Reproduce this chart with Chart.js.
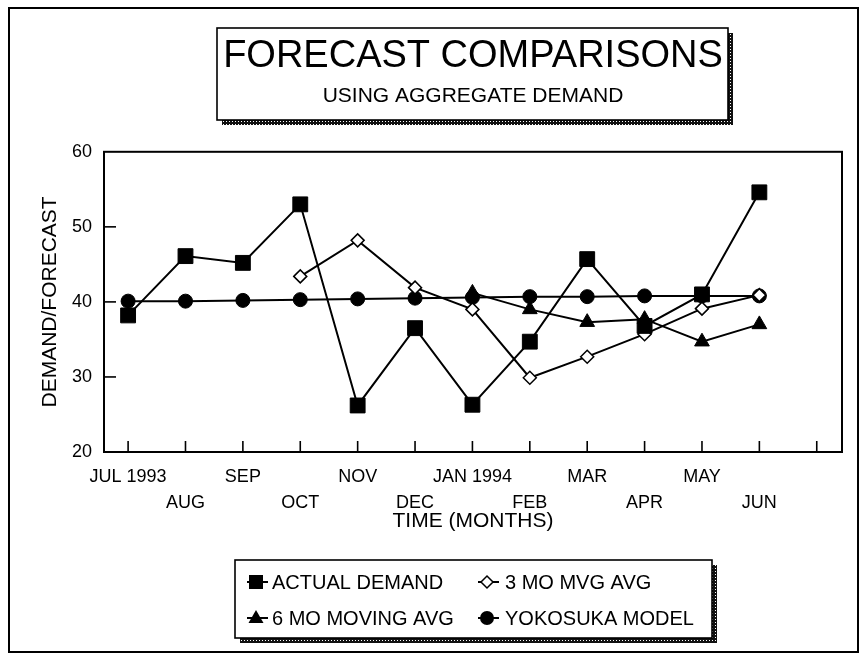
<!DOCTYPE html>
<html><head><meta charset="utf-8">
<script src="https://cdn.jsdelivr.net/npm/chart.js@4.4.1/dist/chart.umd.min.js"></script>
<style>html,body{margin:0;padding:0;background:#fff;}#wrap{width:859px;height:657px;position:relative;}</style>
</head><body><div id="wrap"><canvas id="c" width="859" height="657"></canvas></div>
<script>
const months = ['JUL 1993','AUG','SEP','OCT','NOV','DEC','JAN 1994','FEB','MAR','APR','MAY','JUN',''];
const actualDemand = [38.2, 46.1, 45.2, 53.0, 26.2, 36.5, 26.3, 34.7, 45.7, 36.8, 41.0, 54.6];
const mvg3 = [null, null, null, 43.4, 48.2, 41.9, 39.0, 29.9, 32.7, 35.7, 39.1, 40.9];
const mvg6 = [null, null, null, null, null, null, 41.2, 39.0, 37.3, 37.7, 34.7, 37.0];
const yokosuka = [40.1, 40.1, 40.2, 40.3, 40.4, 40.5, 40.6, 40.7, 40.7, 40.8, 40.8, 40.8];
const yTicks = [20, 30, 40, 50, 60];
const seriesNames = ['ACTUAL DEMAND', '3 MO MVG AVG', '6 MO MOVING AVG', 'YOKOSUKA MODEL'];

const FONT = "'Liberation Sans', Arial, Helvetica, sans-serif";
function pts(arr){ return arr.map((v,i)=>v==null?null:{x:i,y:v}).filter(p=>p); }

function makePattern(ctx){
  const pc = document.createElement('canvas'); pc.width=3; pc.height=3;
  const p = pc.getContext('2d');
  p.fillStyle='#111'; p.fillRect(0,0,3,3);
  p.fillStyle='#fff'; p.fillRect(1,1,1,1);
  return ctx.createPattern(pc,'repeat');
}
function shadowBox(ctx, x1, y1, x2, y2){
  ctx.save();
  ctx.fillStyle = makePattern(ctx);
  ctx.fillRect(x2, y1+5, 5, y2-y1);
  ctx.fillRect(x1+5, y2, x2-x1, 5);
  ctx.restore();
  ctx.save();
  ctx.fillStyle='#fff';
  ctx.fillRect(x1,y1,x2-x1,y2-y1);
  ctx.restore();
  ctx.save();
  ctx.strokeStyle='#000'; ctx.lineWidth=1.6;
  ctx.strokeRect(x1,y1,x2-x1,y2-y1);
  ctx.restore();
}
function marker(ctx, style, x, y){
  ctx.save();
  ctx.strokeStyle='#000'; ctx.fillStyle='#000'; ctx.lineWidth=2;
  ctx.beginPath(); ctx.moveTo(x-9,y); ctx.lineTo(x+12,y); ctx.stroke();
  ctx.beginPath();
  if(style==='rect'){ ctx.rect(x-7,y-7,14,14); ctx.fill(); }
  else if(style==='rectRot'){ ctx.moveTo(x-6,y); ctx.lineTo(x,y-6); ctx.lineTo(x+6,y); ctx.lineTo(x,y+6); ctx.closePath(); ctx.fillStyle='#fff'; ctx.fill(); ctx.lineWidth=1.5; ctx.stroke(); }
  else if(style==='triangle'){ ctx.moveTo(x,y-8); ctx.lineTo(x+7.5,y+5); ctx.lineTo(x-7.5,y+5); ctx.closePath(); ctx.fill(); }
  else { ctx.arc(x,y,7,0,Math.PI*2); ctx.fill(); }
  ctx.restore();
}

const decor = {
  id:'decor',
  beforeDraw(chart){
    const ctx = chart.ctx;
    ctx.save();
    ctx.fillStyle='#fff'; ctx.fillRect(0,0,chart.width,chart.height);
    ctx.strokeStyle='#000'; ctx.lineWidth=2;
    ctx.strokeRect(9,8,849,644);
    ctx.restore();
    shadowBox(ctx, 217, 28, 728, 120);
  },
  beforeDatasetsDraw(chart){
    const ctx = chart.ctx, ca = chart.chartArea;
    const xs = chart.scales.x, ys = chart.scales.y;
    ctx.save();
    ctx.strokeStyle='#000'; ctx.lineWidth=2;
    ctx.strokeRect(ca.left, ca.top, ca.right-ca.left, ca.bottom-ca.top);
    ctx.lineWidth=1.6;
    months.forEach((m,i)=>{
      const px = xs.getPixelForValue(i);
      ctx.beginPath(); ctx.moveTo(px, ca.bottom); ctx.lineTo(px, ca.bottom-11); ctx.stroke();
    });
    yTicks.slice(1,-1).forEach(v=>{
      const py = ys.getPixelForValue(v);
      ctx.beginPath(); ctx.moveTo(ca.left, py); ctx.lineTo(ca.left+12, py); ctx.stroke();
    });
    ctx.restore();
  },
  afterDraw(chart){
    const ctx = chart.ctx;
    shadowBox(ctx, 235, 560, 712, 638);
    const styles = ['rect','rectRot','triangle','circle'];
    const pos = [[256,582,272],[487,582,505],[256,618,272],[487,618,505]];
    ctx.save();
    ctx.font = '20px ' + FONT;
    ctx.fillStyle='#000'; ctx.textBaseline='middle'; ctx.textAlign='left';
    seriesNames.forEach((n,i)=>{
      marker(ctx, styles[i], pos[i][0], pos[i][1]);
      ctx.fillText(n, pos[i][2], pos[i][1]+1);
    });
    ctx.restore();
  }
};

const common = {borderColor:'#000', borderWidth:2, tension:0, pointBorderColor:'#000', pointBackgroundColor:'#000', pointBorderWidth:1};
new Chart(document.getElementById('c'), {
  type:'line',
  data:{
    datasets:[
      Object.assign({}, common, {label:seriesNames[0], data:pts(actualDemand), pointStyle:'rect', pointRadius:10.5}),
      Object.assign({}, common, {label:seriesNames[1], data:pts(mvg3), pointStyle:'rectRot', pointRadius:6.5, pointBackgroundColor:'#fff', pointBorderWidth:1.5}),
      Object.assign({}, common, {label:seriesNames[2], data:pts(mvg6), pointStyle:'triangle', pointRadius:8.5}),
      Object.assign({}, common, {label:seriesNames[3], data:pts(yokosuka), pointStyle:'circle', pointRadius:7})
    ]
  },
  options:{
    responsive:false, animation:false, devicePixelRatio:1,
    layout:{padding:{left:0,right:17,top:0,bottom:0}},
    font:{family:FONT},
    scales:{
      x:{
        type:'linear', min:-0.42, max:12.44,
        afterBuildTicks:(s)=>{ s.ticks = months.map((m,i)=>({value:i})); },
        afterFit:(s)=>{ s.height = 205; },
        grid:{display:false, drawTicks:false}, border:{display:false},
        ticks:{autoSkip:false, maxRotation:0, minRotation:0, padding:12, color:'#000',
          font:{family:FONT, size:18, lineHeight:26/18},
          callback:(v)=>{ const i=Math.round(v); const t=months[i]||''; return i%2===0 ? [t,''] : ['',t]; }},
        title:{display:true, text:'TIME (MONTHS)', color:'#000', font:{family:FONT, size:21}, padding:{top:0,bottom:123}}
      },
      y:{
        min:20, max:60,
        afterFit:(s)=>{ s.width = 104; },
        grid:{display:false, drawTicks:false}, border:{display:false},
        ticks:{stepSize:10, padding:12, color:'#000', font:{family:FONT, size:18}},
        title:{display:true, text:'DEMAND/FORECAST', color:'#000', font:{family:FONT, size:21}, padding:{top:38,bottom:0}}
      }
    },
    plugins:{
      legend:{display:false},
      tooltip:{enabled:false},
      title:{display:true, text:'FORECAST COMPARISONS', fullSize:false, color:'#000', font:{family:FONT, size:38, weight:'normal'}, padding:{top:34,bottom:0}},
      subtitle:{display:true, text:'USING AGGREGATE DEMAND', fullSize:false, color:'#000', font:{family:FONT, size:21, weight:'normal'}, padding:{top:4,bottom:43}}
    }
  },
  plugins:[decor]
});
</script></body></html>
